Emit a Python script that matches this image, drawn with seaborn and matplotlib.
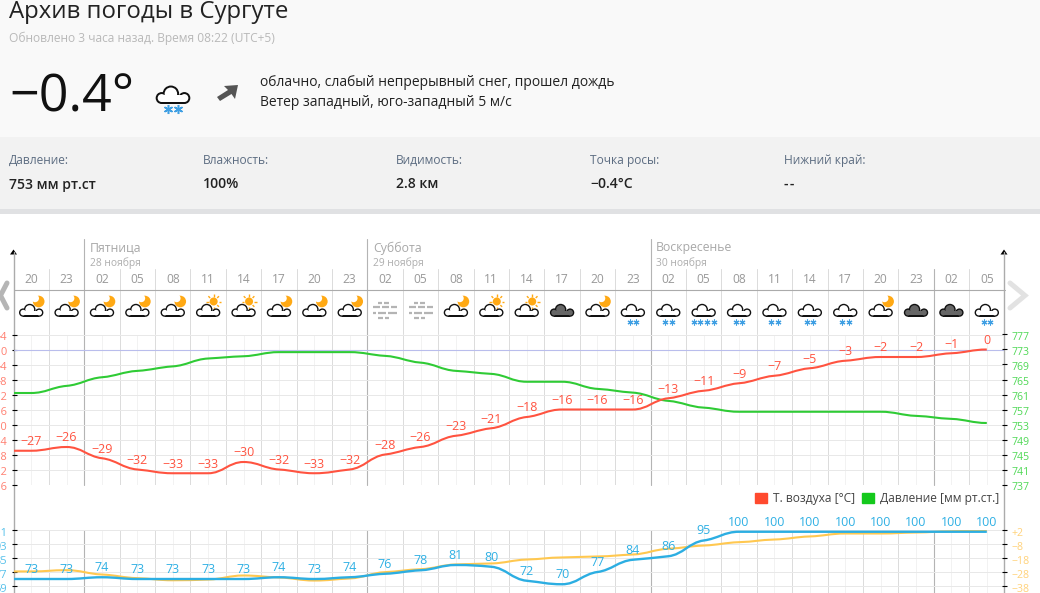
import numpy as np
import pandas as pd
import matplotlib
matplotlib.use("Agg")
import matplotlib.pyplot as plt
from matplotlib.patches import Circle, Rectangle, Patch, PathPatch
from matplotlib.path import Path
from matplotlib.transforms import ScaledTranslation
import seaborn as sns

# hours along the top, one per point
hours = ['20', '23', '02', '05', '08', '11', '14', '17', '20', '23',
         '02', '05', '08', '11', '14', '17', '20', '23',
         '02', '05', '08', '11', '14', '17', '20', '23', '02', '05']

temperature = [-27, -26, -29, -32, -33, -33, -30, -32, -33, -32,
               -28, -26, -23, -21, -18, -16, -16, -16,
               -13, -11, -9, -7, -5, -3, -2, -2, -1, 0]

pressure = [761.4, 763.3, 765.6, 767.3, 768.5, 770.6, 771.2, 772.3, 772.3, 772.3,
            771.3, 769.5, 767.3, 766.5, 764.4, 764.4, 762.5, 761.5,
            759.3, 757.5, 756.4, 756.4, 756.4, 756.4, 756.4, 755.3, 754.5, 753.4]

humidity = [73, 73, 74, 73, 73, 73, 73, 74, 73, 74,
            76, 78, 81, 80, 72, 70, 77, 84,
            86, 95, 100, 100, 100, 100, 100, 100, 100, 100]

dew_point = [-27.6, -26.7, -29.8, -32.4, -33.9, -33.4, -30.5, -31.9, -34.1, -32.6,
             -28.1, -26.0, -22.6, -21.9, -19.1, -17.6, -16.9, -15.5,
             -11.4, -9.1, -6.7, -4.8, -2.6, -0.5, -0.5, 0.2, 1.1, 1.6]

# weather icon per point: cloud type + snow stars
icons = ['moon', 'moon', 'moon', 'moon', 'moon', 'sun', 'sun', 'moon', 'moon', 'moon',
         'fog', 'fog', 'moon', 'sun', 'sun', 'dark', 'moon', 'plain',
         'plain', 'plain', 'plain', 'plain', 'plain', 'plain', 'moon', 'dark', 'dark', 'plain']
snow = [0, 0, 0, 0, 0, 0, 0, 0, 0, 0,
        0, 0, 0, 0, 0, 0, 0, 2,
        2, 4, 2, 2, 2, 2, 0, 0, 0, 2]

day_names = ['Пятница', 'Суббота', 'Воскресенье']
day_dates = ['28 ноября', '29 ноября', '30 ноября']
day_breaks = [1.5, 9.5, 17.5, 25.5]

temp_ticks = [4, 0, -4, -8, -12, -16, -20, -24, -28, -32, -36]
pres_ticks = [777, 773, 769, 765, 761, 757, 753, 749, 745, 741, 737]
hum_ticks = [101, 93, 85, 77, 69]
dew_ticks = [2, -8, -18, -28, -38]

stat_names = ['Давление:', 'Влажность:', 'Видимость:', 'Точка росы:', 'Нижний край:']
stat_values = ['753 мм рт.ст', '100%', '2.8 км', '−0.4°C', '-\u200a-']
stat_x = [9, 203, 396, 590, 784]

RED = '#ff5340'
GREEN = '#2fcb35'
BLUE = '#2caee2'
YELLOW = '#ffc850'
ORANGE = '#ffa914'
SNOW = '#3f9fe3'

sns.set_theme(style='white')
plt.rcParams['font.family'] = ['Open Sans', 'DejaVu Sans']

W, H = 1040, 593
fig = plt.figure(figsize=(W / 100, H / 100), dpi=100, facecolor='white')


def px_axes(left, top, right, bottom, **kw):
    return fig.add_axes([left / W, 1 - bottom / H, (right - left) / W, (bottom - top) / H], **kw)


def fs(px):
    return px * 0.72


# page layer in plain pixels, y going down
page = px_axes(0, 0, W, H, zorder=0)
page.set_xlim(0, W)
page.set_ylim(H, 0)
page.axis('off')

X0, X1 = 13.5, 1004.5


def xpx(i):
    return X0 + (i + 0.5) * (X1 - X0) / 28


page.add_patch(Rectangle((0, 0), W, 137, color='#f9f9f9', lw=0))
page.add_patch(Rectangle((0, 137), W, 72, color='#f2f2f2', lw=0))
page.add_patch(Rectangle((0, 209), W, 5, color='#e0e1e3', lw=0))


def cloud(cx, base, s=1.0, fill='white', edge='#111111'):
    parts = [(-8, -4.2, 4.2), (-1.5, -7.2, 5.8), (8, -4.2, 4.2)]
    for grow, col in ((0, edge), (-1.4, fill)):
        for dx, dy, r in parts:
            page.add_patch(Circle((cx + dx * s, base + dy * s), (r + grow) * s, color=col, lw=0, zorder=3))
        page.add_patch(Rectangle((cx - 8 * s, base - 6 * s), 16 * s, 6 * s + grow * s,
                                 color=col, lw=0, zorder=3))


def moon(cx, cy):
    page.add_patch(Circle((cx, cy), 5.8, color=ORANGE, lw=0, zorder=2))
    page.add_patch(Circle((cx - 3.6, cy - 3.2), 3.9, color='white', lw=0, zorder=2))


def sun(cx, cy):
    page.add_patch(Circle((cx, cy), 4, color=ORANGE, lw=0, zorder=2))
    for a in np.radians(np.arange(0, 360, 45)):
        page.plot([cx + 5 * np.cos(a), cx + 7.5 * np.cos(a)], [cy + 5 * np.sin(a), cy + 7.5 * np.sin(a)],
                  color=ORANGE, lw=1, zorder=2, solid_capstyle='butt')


def fog(cx):
    rows = [(302.7, [(-7, -3), (-1, 4)]), (307.3, [(-12, -5), (-3, 4), (6, 12)]),
            (312.7, [(-12, -9), (-7, 1), (3, 12)]), (317.7, [(-7, -2), (0, 4)])]
    for y, segs in rows:
        for a, b in segs:
            page.plot([cx + a, cx + b], [y, y], color='#b4b4b4', lw=1.6, solid_capstyle='butt', zorder=3)


def stars(cx, y, n, size=4.2, gap=6.6, mew=0.8):
    xs = cx + (np.arange(n) - (n - 1) / 2) * gap
    page.plot(xs, [y] * n, ls='none', marker=(6, 2, 0), ms=size, mew=mew, color=SNOW, zorder=3)


# header text
page.text(9, 11.5, 'Архив погоды в Сургуте', fontsize=fs(24), color='#222222', va='center')
page.text(9, 38, 'Обновлено 3 часа назад. Время 08:22 (UTC+5)', fontsize=fs(12), color='#b9b9b9', va='center')
page.text(9, 98, '−0.4°', fontsize=fs(52), color='#111111', va='center')
cloud(173, 104, s=1.42)
stars(173, 109, 2, size=6.5, gap=10, mew=1.1)
page.fill([238, 235, 231.5, 220, 217, 228, 224], [85, 99, 94, 101, 97, 90, 86], color='#555555', lw=0)
page.text(260, 83, 'облачно, слабый непрерывный снег, прошел дождь', fontsize=fs(13.95), color='#222222', va='center')
page.text(260, 102.5, 'Ветер западный, юго-западный 5 м/с', fontsize=fs(13.95), color='#222222', va='center')
for x, name, val in zip(stat_x, stat_names, stat_values):
    page.text(x, 160.5, name, fontsize=fs(12), color='#5d6d82', va='center')
    page.text(x, 184.5, val, fontsize=fs(14), color='#222222', va='center', fontweight='semibold')

# top rows of the chart
for i in np.arange(0.5, 27):
    if i not in day_breaks:
        page.plot([xpx(i)] * 2, [269, 334], color='#dcdcdc', lw=0.72)
for n, i in enumerate(day_breaks):
    top = 239 if n < 3 else 269
    page.plot([xpx(i)] * 2, [top, 484.5], color='#b4b4b4', lw=0.8)
    page.plot([xpx(i)] * 2, [530, H], color='#b4b4b4', lw=0.8)
    if n < 3:
        page.text(xpx(i) + 5.5, 248, day_names[n], fontsize=fs(12.3), color='#a8a8a8', va='center')
        page.text(xpx(i) + 5.5, 263.5, day_dates[n], fontsize=fs(10.3), color='#adadad', va='center')
page.plot([X0, X1], [289.5, 289.5], color='#ababab', lw=0.8)
page.plot([X0, X0], [252, H], color='#ababab', lw=1.0)
page.plot([X1 - 0.5, X1 - 0.5], [252, H], color='#ababab', lw=1.0)
for x in (X0, X1 - 0.5):
    page.fill([x - 3.5, x + 3.5, x], [254.5, 254.5, 249.5], color='black', lw=0)
page.plot([7, 0.5, 7], [283, 295.5, 308], color='#b5b5b5', lw=3.6, solid_joinstyle='miter')
page.plot([1010, 1025, 1010], [283, 295.5, 308], color='#e2e2e2', lw=3.6, solid_joinstyle='miter')

for i, hour in enumerate(hours):
    page.text(xpx(i), 279.5, hour, fontsize=fs(12), color='#999999', ha='center', va='center')
    cx = xpx(i)
    kind = icons[i]
    if kind == 'fog':
        fog(cx)
        continue
    if kind == 'moon':
        moon(cx + 7.5, 301.5)
    elif kind == 'sun':
        sun(cx + 5.5, 301.5)
    cloud(cx, 316.8, fill='#666666' if kind == 'dark' else 'white')
    if snow[i]:
        stars(cx, 321.7, snow[i])

idx = np.arange(len(hours))


def spline_path(ys, xmin):
    # stepped spline like the site: flat-ish at each point, steeper between them
    ys = list(ys)
    verts = [(xmin, ys[0]), (0, ys[0])]
    codes = [Path.MOVETO, Path.LINETO]
    n = len(ys)
    right_prev = ys[0]
    for i in range(1, n):
        y = ys[i]
        last = ys[i - 1]
        nxt = ys[i + 1] if i + 1 < n else y
        t = 0.4 * (nxt - last) / 2
        if (y - last) * (nxt - y) <= 0:
            t = 0
        verts += [(i - 1 + 0.42, right_prev), (i - 0.42, y - 0.42 * t), (i, y)]
        codes += [Path.CURVE4] * 3
        right_prev = y + 0.42 * t
    return Path(verts, codes)


def draw_series(ax, values, color, lw, z):
    df = pd.DataFrame({'x': idx, 'y': values})
    sns.lineplot(data=df, x='x', y='y', ax=ax, color=color, lw=lw, zorder=z)
    line = ax.lines[-1]
    line.set_visible(False)
    ax.add_patch(PathPatch(spline_path(values, ax.get_xlim()[0]), fc='none', ec=color, lw=lw, zorder=z,
                           clip_on=True))
    ax.set_xlabel('')
    ax.set_ylabel('')


def style_panel(ax):
    ax.set_xlim(-0.5, 27.5)
    ax.patch.set_alpha(0)
    for s in ax.spines.values():
        s.set_visible(False)
    ax.set_xticks([i for i in np.arange(0.5, 27) if i not in day_breaks])
    ax.set_xticks(idx, minor=True)
    ax.grid(True, which='major', axis='x', color='#dcdcdc', lw=0.72)
    ax.grid(True, which='minor', axis='x', color='#f2f2f2', lw=0.72)
    ax.grid(True, which='major', axis='y', color='#e8e8e8', lw=0.72)
    ax.tick_params(axis='x', which='both', length=0, labelbottom=False)
    ax.set_axisbelow(True)


def signed(v):
    return ('+' if v > 0 else '−' if v < 0 else '') + str(abs(v))


def nudge_labels(ax, labels):
    # tick text sits a little lower than matplotlib's centre
    for lab in labels:
        lab.set_transform(lab.get_transform() + ScaledTranslation(0, -1.5 / 100, fig.dpi_scale_trans))


# temperature and pressure
ax_t = px_axes(X0, 334.5, X1, 484.5, zorder=2)
style_panel(ax_t)
ax_t.set_ylim(-36, 4)
ax_t.set_yticks(temp_ticks)
ax_t.set_yticklabels([signed(v) for v in temp_ticks])
ax_t.tick_params(axis='y', length=3.6, width=0.8, color='black', direction='inout', pad=2.8,
                 labelsize=fs(11), labelcolor='#ff7f70')
nudge_labels(ax_t, ax_t.get_yticklabels())
ax_t.axhline(0, color='#b9bdec', lw=0.8, zorder=1)
ax_p = ax_t.twinx()
ax_p.set_xlim(-0.5, 27.5)
ax_p.set_ylim(737, 777)
ax_p.patch.set_alpha(0)
for s in ax_p.spines.values():
    s.set_visible(False)
draw_series(ax_p, pressure, GREEN, 1.5, 3)
ax_p.set_xlim(-0.5, 27.5)
ax_p.set_ylim(737, 777)
ax_p.set_yticks(pres_ticks)
ax_p.set_yticklabels([str(v) for v in pres_ticks])
ax_p.tick_params(axis='y', length=3.6, width=0.8, color='black', direction='inout', pad=3.0,
                 labelsize=fs(10.5), labelcolor='#4fd855', labelleft=False, labelright=True,
                 left=False, right=True)
nudge_labels(ax_p, ax_p.get_yticklabels())
ax_p.grid(False)

ax_tl = ax_t.twinx()
ax_tl.patch.set_alpha(0)
ax_tl.axis('off')
ax_tl.set_xlim(-0.5, 27.5)
ax_tl.set_ylim(-36, 4)
draw_series(ax_tl, temperature, RED, 1.5, 4)
ax_tl.set_ylim(-36, 4)
for i, v in enumerate(temperature):
    ax_tl.annotate(signed(v), (i, v), xytext=(0, 6.6), textcoords='offset points', ha='center',
                   va='center', fontsize=fs(12.5), color=RED, zorder=6, annotation_clip=False)

# humidity and dew point
ax_h = px_axes(X0, 530, X1, H, zorder=2)
style_panel(ax_h)
ax_h.set_ylim(65, 101)
ax_h.set_yticks(hum_ticks)
ax_h.set_yticklabels([str(v) for v in hum_ticks])
ax_h.tick_params(axis='y', length=3.6, width=0.8, color='black', direction='inout', pad=2.8,
                 labelsize=fs(11), labelcolor='#55c0ea')
nudge_labels(ax_h, ax_h.get_yticklabels())
ax_d = ax_h.twinx()
ax_d.patch.set_alpha(0)
for s in ax_d.spines.values():
    s.set_visible(False)
ax_d.set_xlim(-0.5, 27.5)
ax_d.set_ylim(-43, 2)
draw_series(ax_d, dew_point, YELLOW, 1.5, 3)
ax_d.set_xlim(-0.5, 27.5)
ax_d.set_ylim(-43, 2)
ax_d.set_yticks(dew_ticks)
ax_d.set_yticklabels([signed(v) for v in dew_ticks])
ax_d.tick_params(axis='y', length=3.6, width=0.8, color='black', direction='inout', pad=3.0,
                 labelsize=fs(10.5), labelcolor='#ffd27a', labelleft=False, labelright=True,
                 left=False, right=True)
nudge_labels(ax_d, ax_d.get_yticklabels())
ax_d.grid(False)
ax_h2 = ax_h.twinx()
ax_h2.patch.set_alpha(0)
ax_h2.axis('off')
ax_h2.set_xlim(-0.5, 27.5)
ax_h2.set_ylim(65, 101)
draw_series(ax_h2, humidity, BLUE, 1.7, 4)
ax_h2.set_ylim(65, 101)
for i, v in enumerate(humidity):
    ax_h2.annotate(str(v), (i, v), xytext=(0, 7), textcoords='offset points', ha='center', va='center',
                   fontsize=fs(12.5), color='#2fb0e4', zorder=6, annotation_clip=False)

page.legend(handles=[Patch(color='#ff4a2e', label='Т. воздуха [°C]'), Patch(color='#14c91c', label='Давление [мм рт.ст.]')],
            loc='center right', bbox_to_anchor=(1002 / W, 1 - 498.5 / H), bbox_transform=fig.transFigure, ncols=2,
            frameon=False, fontsize=fs(12), labelcolor='#444444', handlelength=1.0, handleheight=1.0,
            handletextpad=0.5, columnspacing=0.6, borderpad=0.2, borderaxespad=0)

fig.savefig('out.png', dpi=100, facecolor='white')
